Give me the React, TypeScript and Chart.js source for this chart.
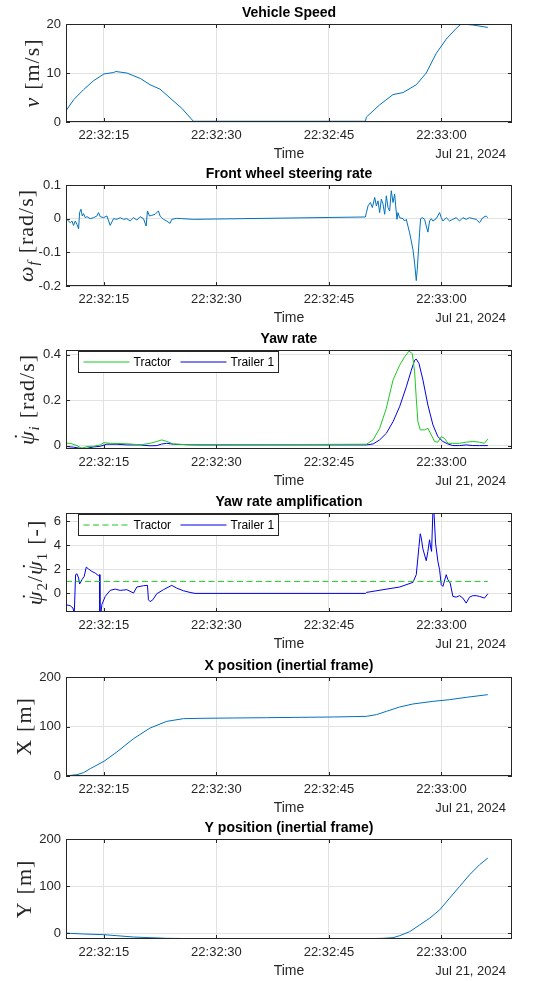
import { useEffect, useRef } from "react";
import { Chart, registerables } from "chart.js";

Chart.register(...registerables);

// Time axis: seconds after 22:32:00 (Jul 21, 2024)
const TIME_MIN = 9.95;
const TIME_MAX = 69.4;
const TIME_TICKS = [15, 30, 45, 60];
const TIME_TICK_LABELS = ["22:32:15", "22:32:30", "22:32:45", "22:33:00"];
const X_LABEL = "Time";
const DATE_LABEL = "Jul 21, 2024";

// Vehicle speed [m/s]
const speedT = [9.95, 11.0, 12.29, 13.6, 15.0, 16.29, 16.6, 18.06, 19.83, 21.16, 22.49, 23.82, 25.38, 26.93, 27.3, 49.86, 49.99, 51.76, 53.54, 54.87, 56.64, 57.97, 59.3, 60.63, 61.96, 62.63, 64.18, 66.18];
const speedV = [2.3, 4.6, 6.6, 8.4, 9.8, 10.1, 10.3, 10.0, 8.9, 7.6, 6.7, 4.9, 2.8, 0.15, 0.15, 0.15, 1.0, 3.5, 5.6, 6.0, 7.6, 10.0, 14.0, 16.9, 19.1, 20.0, 19.8, 19.3];

// Front wheel steering rate [rad/s]
const steerT = [9.95, 10.08, 10.52, 10.74, 10.96, 11.19, 11.41, 11.63, 11.76, 11.94, 12.12, 12.29, 12.52, 12.74, 13.18, 13.63, 14.07, 14.29, 14.51, 14.96, 15.4, 15.84, 16.29, 16.73, 17.17, 17.62, 18.06, 18.5, 18.95, 19.39, 19.83, 20.28, 20.63, 20.81, 21.08, 21.39, 21.83, 22.27, 22.49, 22.94, 23.38, 23.82, 24.05, 24.71, 25.38, 26.93, 49.86, 49.99, 50.21, 50.52, 50.79, 51.1, 51.32, 51.54, 51.76, 51.98, 52.21, 52.43, 52.65, 52.87, 53.09, 53.31, 53.54, 53.76, 53.89, 54.07, 54.2, 54.42, 54.87, 55.09, 55.31, 55.53, 55.75, 55.98, 56.2, 56.42, 56.64, 56.77, 56.91, 57.08, 57.22, 57.44, 57.75, 57.97, 58.19, 58.41, 58.64, 58.86, 59.3, 59.75, 59.97, 60.19, 60.63, 61.08, 61.52, 61.96, 62.41, 62.85, 63.29, 63.74, 64.18, 64.62, 65.07, 65.51, 65.95, 66.18];
const steerV = [0, 0, -0.012, -0.007, -0.02, -0.007, -0.017, -0.03, 0.018, 0.028, 0.008, 0.015, 0.003, 0.006, 0, 0.003, 0.008, 0.018, 0.006, 0.003, 0.008, -0.02, 0, -0.002, 0.003, -0.002, 0, -0.007, 0.003, -0.004, 0.006, 0, -0.022, 0.023, 0.008, 0.01, 0.013, 0.023, 0.008, -0.002, -0.007, -0.014, -0.002, 0.001, 0, -0.002, 0.005, 0.018, 0.038, 0.048, 0.033, 0.063, 0.038, 0.053, 0.018, 0.058, 0.043, 0.013, 0.068, 0.033, 0.023, 0.083, 0.048, 0.073, 0.038, -0.002, 0.018, 0.003, 0, -0.007, -0.002, -0.022, -0.042, -0.067, -0.092, -0.132, -0.184, -0.152, -0.102, -0.042, 0, 0.003, -0.002, -0.022, -0.04, -0.007, 0, -0.007, 0, 0.018, 0.003, -0.007, 0.003, -0.007, -0.002, 0.003, -0.007, 0.003, -0.002, 0.003, 0, -0.002, -0.012, 0.003, 0.008, 0.003];

// Yaw rate [rad/s]
const yawTractorT = [9.95, 10.52, 11.41, 12.07, 12.74, 13.63, 14.51, 15.0, 15.84, 17.17, 18.5, 19.83, 21.16, 22.05, 22.72, 23.38, 24.27, 26.04, 27.82, 49.99, 50.88, 51.76, 52.65, 53.54, 54.42, 55.09, 55.67, 56.11, 56.42, 56.64, 56.86, 57.17, 57.75, 58.19, 58.64, 59.08, 59.52, 59.97, 60.41, 60.86, 61.52, 62.41, 63.29, 64.18, 65.07, 65.73, 66.18];
const yawTractorV = [0.01, 0.01, 0, -0.012, -0.004, -0.003, 0.003, 0.013, 0.01, 0.009, 0.007, 0.003, 0.01, 0.018, 0.025, 0.018, 0.007, 0.004, 0.003, 0.006, 0.025, 0.076, 0.164, 0.288, 0.353, 0.39, 0.415, 0.404, 0.324, 0.207, 0.105, 0.069, 0.069, 0.076, 0.047, 0.018, 0.015, 0.039, 0.032, 0.01, 0.01, 0.01, 0.015, 0.018, 0.015, 0.01, 0.029];
const yawTrailerT = [9.95, 10.96, 11.85, 12.74, 13.63, 14.51, 15.4, 16.73, 18.06, 19.83, 21.16, 22.05, 22.72, 23.38, 24.27, 26.04, 27.82, 49.99, 50.88, 51.76, 52.65, 53.54, 54.42, 55.31, 55.98, 56.42, 56.64, 57.0, 57.53, 58.19, 58.86, 59.52, 60.19, 60.86, 61.52, 62.41, 63.29, 64.18, 65.07, 66.18];
const yawTrailerV = [-0.004, -0.007, -0.012, -0.012, -0.006, -0.003, 0.006, 0.006, 0.003, 0.003, -0.001, 0, 0.007, 0.01, 0.006, 0.004, 0.003, 0.003, 0.007, 0.025, 0.054, 0.105, 0.171, 0.258, 0.331, 0.375, 0.38, 0.361, 0.288, 0.178, 0.091, 0.039, 0.018, 0.007, 0, 0, 0.003, 0, 0, 0];

// Yaw rate amplification [-]
const ampTractorT = [9.95, 66.18];
const ampTractorV = [1, 1];
const ampTrailerT = [9.95, 10.52, 10.88, 11.05, 11.14, 11.23, 11.41, 11.63, 11.76, 12.07, 12.38, 12.65, 12.96, 13.4, 13.85, 14.29, 14.42, 14.47, 14.6, 14.73, 15.18, 15.84, 16.51, 17.17, 18.06, 18.95, 19.39, 20.28, 20.81, 20.94, 21.16, 21.52, 22.05, 22.94, 24.05, 24.71, 25.6, 26.49, 27.15, 49.86, 49.99, 52.21, 54.42, 56.2, 56.64, 57.0, 57.17, 57.31, 57.53, 57.97, 58.19, 58.41, 58.55, 58.68, 58.86, 58.99, 59.21, 59.52, 59.75, 59.97, 60.19, 60.63, 60.86, 61.16, 61.52, 61.96, 62.41, 62.85, 63.29, 63.74, 64.18, 64.62, 65.07, 65.73, 66.18];
const ampTrailerV = [-0.94, -1.03, -1.22, -1.7, -1.7, 1.56, 1.64, 1.28, 0.78, 1.14, 1.42, 2.19, 2.03, 1.83, 1.69, 1.47, 1.56, -1.7, -1.7, -0.94, -0.25, 0.25, 0.36, 0.25, 0.31, 0.03, 0.53, 0.64, 0.67, -0.53, -0.69, -0.53, -0.03, 0.31, 0.67, 0.44, 0.22, 0.08, 0, 0, 0.08, 0.31, 0.53, 0.92, 1.56, 3.92, 4.97, 4.61, 3.69, 2.72, 3.5, 4.47, 3.86, 3.5, 6.9, 6.9, 4.19, 2.67, 1.97, 0.72, 0.58, 1.56, 1.14, 0.86, -0.25, -0.31, -0.19, -0.39, -0.81, -0.31, -0.19, -0.19, -0.25, -0.39, -0.03];

// X position, inertial frame [m]
const posXT = [9.95, 11.41, 12.29, 13.18, 15.0, 16.73, 18.95, 21.16, 23.38, 25.6, 27.82, 32.25, 36.69, 41.12, 45.55, 49.99, 51.32, 52.65, 54.42, 56.2, 58.86, 61.08, 63.29, 66.18];
const posXV = [0, 2.7, 6.7, 14.8, 29.6, 48.5, 75.4, 97.0, 110.4, 115.8, 116.5, 117.2, 117.8, 118.5, 119.2, 120.5, 123.9, 130.6, 139.4, 145.5, 150.8, 154.2, 158.9, 164.3];

// Y position, inertial frame [m]
const posYT = [9.95, 12.29, 15.0, 16.73, 18.95, 21.16, 23.38, 27.82, 36.69, 45.55, 50.0, 52.21, 53.54, 54.42, 55.75, 57.08, 58.41, 59.75, 61.08, 62.41, 63.74, 65.07, 66.18];
const posYV = [0.5, -1.4, -2.8, -5.0, -7.8, -9.2, -10.6, -11.3, -11.3, -11.3, -11.3, -10.6, -9.2, -5.0, 3.5, 17.7, 31.9, 49.6, 74.5, 99.3, 124.1, 145.4, 159.6];

const MATLAB_BLUE = "#0072bd";
const TRACTOR_GREEN = "#1ec81e";
const TRAILER_BLUE = "#0000e6";
const AXIS_COLOR = "#262626";
const GRID_COLOR = "#e2e2e2";
const SANS = '"Liberation Sans", Arial, sans-serif';
const SERIF = '"Liberation Serif", "Times New Roman", serif';

const PAGE_W = 560;
const AXES_LEFT = 66;
const AXES_RIGHT = 512;
const PAD_TOP = 24;
const PAD_BOTTOM = 42;

type Series = { label?: string; t: number[]; v: number[]; color: string; dash?: number[] };
type Seg = { text: string; italic?: boolean; sub?: boolean; dot?: boolean; gap?: number };
type PanelDef = {
  title: string;
  axesTop: number;
  plotH: number;
  yMin: number;
  yMax: number;
  yTicks: number[];
  yTickLabels: string[];
  ylabel: Seg[];
  ylabelX: number;
  series: Series[];
  legend?: boolean;
};

const panels: PanelDef[] = [
  {
    title: "Vehicle Speed",
    axesTop: 24,
    plotH: 98,
    yMin: 0,
    yMax: 20,
    yTicks: [0, 10, 20],
    yTickLabels: ["0", "10", "20"],
    ylabel: [{ text: "v", italic: true, gap: 7 }, { text: "[m/s]" }],
    ylabelX: 33,
    series: [{ t: speedT, v: speedV, color: MATLAB_BLUE }],
  },
  {
    title: "Front wheel steering rate",
    axesTop: 185,
    plotH: 101,
    yMin: -0.2,
    yMax: 0.1,
    yTicks: [-0.2, -0.1, 0, 0.1],
    yTickLabels: ["-0.2", "-0.1", "0", "0.1"],
    ylabel: [{ text: "ω", italic: true }, { text: "f", italic: true, sub: true, gap: 7 }, { text: "[rad/s]" }],
    ylabelX: 27,
    series: [{ t: steerT, v: steerV, color: MATLAB_BLUE }],
  },
  {
    title: "Yaw rate",
    axesTop: 350,
    plotH: 99,
    yMin: -0.015,
    yMax: 0.42,
    yTicks: [0, 0.2, 0.4],
    yTickLabels: ["0", "0.2", "0.4"],
    ylabel: [{ text: "ψ", italic: true, dot: true }, { text: "i", italic: true, sub: true, gap: 7 }, { text: "[rad/s]" }],
    ylabelX: 28,
    series: [
      { label: "Tractor", t: yawTractorT, v: yawTractorV, color: TRACTOR_GREEN },
      { label: "Trailer 1", t: yawTrailerT, v: yawTrailerV, color: TRAILER_BLUE },
    ],
    legend: true,
  },
  {
    title: "Yaw rate amplification",
    axesTop: 513,
    plotH: 99,
    yMin: -1.55,
    yMax: 6.7,
    yTicks: [0, 2, 4, 6],
    yTickLabels: ["0", "2", "4", "6"],
    ylabel: [
      { text: "ψ", italic: true, dot: true },
      { text: "2", sub: true },
      { text: "/" },
      { text: "ψ", italic: true, dot: true },
      { text: "1", sub: true, gap: 7 },
      { text: "[-]" },
    ],
    ylabelX: 36,
    series: [
      { label: "Tractor", t: ampTractorT, v: ampTractorV, color: TRACTOR_GREEN, dash: [6, 3.5] },
      { label: "Trailer 1", t: ampTrailerT, v: ampTrailerV, color: TRAILER_BLUE },
    ],
    legend: true,
  },
  {
    title: "X position (inertial frame)",
    axesTop: 677,
    plotH: 99,
    yMin: 0,
    yMax: 200,
    yTicks: [0, 100, 200],
    yTickLabels: ["0", "100", "200"],
    ylabel: [{ text: "X", gap: 7 }, { text: "[m]" }],
    ylabelX: 25,
    series: [{ t: posXT, v: posXV, color: MATLAB_BLUE }],
  },
  {
    title: "Y position (inertial frame)",
    axesTop: 839,
    plotH: 100,
    yMin: -12,
    yMax: 200,
    yTicks: [0, 100, 200],
    yTickLabels: ["0", "100", "200"],
    ylabel: [{ text: "Y", gap: 7 }, { text: "[m]" }],
    ylabelX: 25,
    series: [{ t: posYT, v: posYV, color: MATLAB_BLUE }],
  },
];

function drawAxisLabel(ctx: CanvasRenderingContext2D, segs: Seg[], cx: number, cy: number) {
  const size = 22;
  const subSize = 15;
  const fontOf = (s: Seg) => `${s.italic ? "italic " : ""}${s.sub ? subSize : size}px ${SERIF}`;
  ctx.save();
  (ctx as any).letterSpacing = "1px";
  const widths = segs.map((s) => {
    ctx.font = fontOf(s);
    return ctx.measureText(s.text).width;
  });
  const total = widths.reduce((acc, w, i) => acc + w + (segs[i].gap || 0), 0);
  ctx.translate(cx + 5.5, cy);
  ctx.rotate(-Math.PI / 2);
  ctx.fillStyle = AXIS_COLOR;
  ctx.textBaseline = "alphabetic";
  let x = -total / 2;
  segs.forEach((s, i) => {
    ctx.font = fontOf(s);
    ctx.textAlign = "left";
    ctx.fillText(s.text, x, s.sub ? 5 : 0);
    if (s.dot) {
      ctx.font = `${size}px ${SERIF}`;
      ctx.textAlign = "center";
      ctx.fillText("˙", x + widths[i] / 2 + 2, -5);
    }
    x += widths[i] + (s.gap || 0);
  });
  ctx.restore();
}

function decorations(p: PanelDef) {
  return {
    id: "decorations",
    afterDraw(chart: any) {
      const { ctx, chartArea: a, scales } = chart;
      const tickLen = 4;
      ctx.save();

      // inward tick marks on all four sides
      ctx.strokeStyle = AXIS_COLOR;
      ctx.lineWidth = 1;
      ctx.beginPath();
      for (const t of TIME_TICKS) {
        const x = Math.round(scales.x.getPixelForValue(t)) + 0.5;
        ctx.moveTo(x, a.bottom);
        ctx.lineTo(x, a.bottom - tickLen);
        ctx.moveTo(x, a.top);
        ctx.lineTo(x, a.top + tickLen);
      }
      for (const v of p.yTicks) {
        const y = Math.round(scales.y.getPixelForValue(v)) + 0.5;
        ctx.moveTo(a.left, y);
        ctx.lineTo(a.left + tickLen, y);
        ctx.moveTo(a.right, y);
        ctx.lineTo(a.right - tickLen, y);
      }
      ctx.stroke();

      // axes box
      ctx.strokeStyle = AXIS_COLOR;
      ctx.lineWidth = 1;
      ctx.strokeRect(Math.round(a.left) + 0.5, Math.round(a.top) + 0.5, Math.round(a.width) - 1, Math.round(a.height) - 1);

      // legend
      if (p.legend) {
        const bx = a.left + 12.5;
        const by = a.top + 1.5;
        const bw = 200;
        const bh = 21;
        ctx.fillStyle = "#ffffff";
        ctx.fillRect(bx, by, bw, bh);
        ctx.strokeStyle = AXIS_COLOR;
        ctx.strokeRect(bx, by, bw, bh);
        const cyL = by + bh / 2;
        const entries = [
          { s: p.series[0], x0: bx + 5, x1: bx + 51, tx: bx + 55 },
          { s: p.series[1], x0: bx + 102, x1: bx + 148, tx: bx + 152 },
        ];
        ctx.font = `12px ${SANS}`;
        ctx.textBaseline = "middle";
        ctx.textAlign = "left";
        for (const e of entries) {
          ctx.strokeStyle = e.s.color;
          ctx.setLineDash(e.s.dash || []);
          ctx.beginPath();
          ctx.moveTo(e.x0, cyL);
          ctx.lineTo(e.x1, cyL);
          ctx.stroke();
          ctx.setLineDash([]);
          ctx.fillStyle = "#000000";
          ctx.fillText(e.s.label || "", e.tx, cyL + 0.5);
        }
      }

      // title
      ctx.fillStyle = "#000000";
      ctx.font = `bold 14px ${SANS}`;
      ctx.textAlign = "center";
      ctx.textBaseline = "middle";
      ctx.fillText(p.title, (a.left + a.right) / 2, a.top - 10.5);

      // x label and date
      ctx.fillStyle = AXIS_COLOR;
      ctx.font = `14px ${SANS}`;
      ctx.fillText(X_LABEL, (a.left + a.right) / 2, a.bottom + 32);
      ctx.font = `13px ${SANS}`;
      ctx.textAlign = "right";
      ctx.fillText(DATE_LABEL, a.right - 6, a.bottom + 32);

      // y label
      drawAxisLabel(ctx, p.ylabel, p.ylabelX, (a.top + a.bottom) / 2);

      ctx.restore();
    },
  };
}

function buildChart(canvas: HTMLCanvasElement, p: PanelDef) {
  return new Chart(canvas, {
    type: "line",
    data: {
      datasets: p.series.map((s) => ({
        label: s.label || "",
        data: s.t.map((t, i) => ({ x: t, y: s.v[i] })),
        borderColor: s.color,
        borderWidth: 1,
        borderDash: s.dash || [],
        pointRadius: 0,
        tension: 0,
        fill: false,
      })),
    },
    options: {
      animation: false,
      responsive: false,
      maintainAspectRatio: false,
      devicePixelRatio: 1,
      events: [],
      layout: { padding: { left: 0, right: PAGE_W - AXES_RIGHT, top: PAD_TOP, bottom: 0 } },
      plugins: { legend: { display: false }, tooltip: { enabled: false }, title: { display: false } },
      scales: {
        x: {
          type: "linear",
          min: TIME_MIN,
          max: TIME_MAX,
          afterBuildTicks: (sc: any) => {
            sc.ticks = TIME_TICKS.map((v) => ({ value: v }));
          },
          afterFit: (sc: any) => {
            sc.height = PAD_BOTTOM;
          },
          ticks: {
            autoSkip: false,
            maxRotation: 0,
            padding: 6,
            color: AXIS_COLOR,
            font: { family: SANS, size: 13 },
            callback: (v: any) => TIME_TICK_LABELS[TIME_TICKS.indexOf(Number(v))] ?? "",
          },
          grid: { color: GRID_COLOR, lineWidth: 1, drawTicks: false },
          border: { display: false },
        },
        y: {
          type: "linear",
          min: p.yMin,
          max: p.yMax,
          afterBuildTicks: (sc: any) => {
            sc.ticks = p.yTicks.map((v) => ({ value: v }));
          },
          afterFit: (sc: any) => {
            sc.width = AXES_LEFT;
          },
          ticks: {
            autoSkip: false,
            padding: 5,
            color: AXIS_COLOR,
            font: { family: SANS, size: 13 },
            callback: (_v: any, i: number) => p.yTickLabels[i],
          },
          grid: { color: GRID_COLOR, lineWidth: 1, drawTicks: false },
          border: { display: false },
        },
      },
    },
    plugins: [decorations(p)],
  } as any);
}

function Panel({ p }: { p: PanelDef }) {
  const ref = useRef<HTMLCanvasElement>(null);
  useEffect(() => {
    const chart = buildChart(ref.current as HTMLCanvasElement, p);
    return () => chart.destroy();
  }, [p]);
  const height = PAD_TOP + p.plotH + PAD_BOTTOM;
  return (
    <canvas
      ref={ref}
      width={PAGE_W}
      height={height}
      style={{ position: "absolute", left: 0, top: p.axesTop - PAD_TOP, width: PAGE_W, height }}
    />
  );
}

export default function App() {
  return (
    <div style={{ position: "absolute", left: 0, top: 0, width: PAGE_W, height: 981, background: "#ffffff", overflow: "hidden" }}>
      {panels.map((p) => (
        <Panel key={p.title} p={p} />
      ))}
    </div>
  );
}
